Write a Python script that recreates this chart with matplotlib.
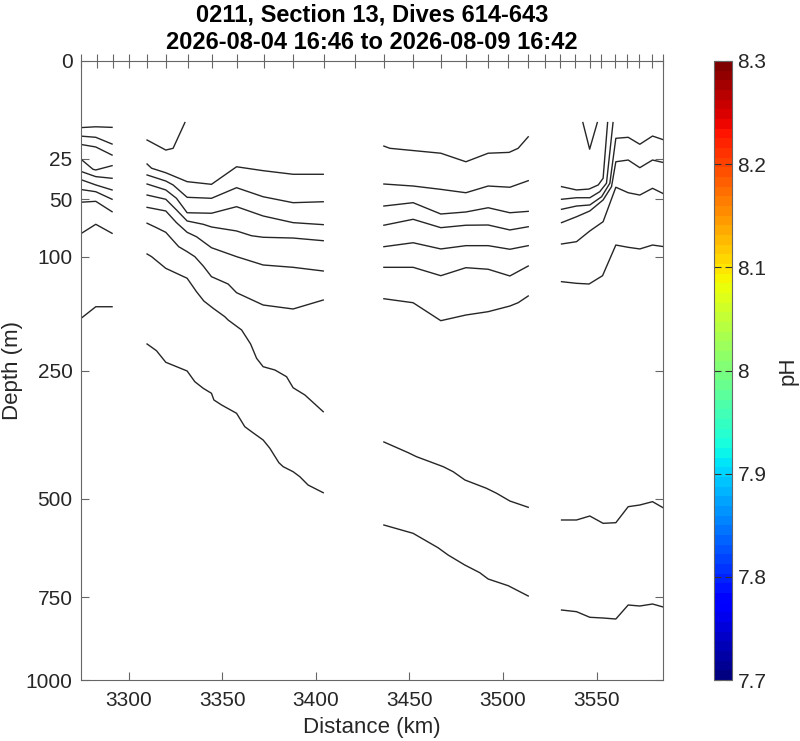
import numpy as np
import matplotlib
matplotlib.use("Agg")
import matplotlib.pyplot as plt
import matplotlib.colors as mcolors
import matplotlib.cm as cm

# dive positions (km) marked along the top axis
dive_km = [3274.0, 3282.5, 3291.2, 3300.0, 3309.6, 3319.8, 3331.3, 3344.3, 3357.7, 3372.4,
           3387.9, 3404.3, 3420.9, 3436.4, 3452.0, 3466.8, 3480.2, 3492.1, 3502.8, 3513.5,
           3522.8, 3530.9, 3538.9, 3546.9, 3553.0, 3560.1, 3566.9, 3573.1, 3579.9, 3586.1]

# contour lines, (distance km, depth m)
a_km = [3274.0, 3282.5, 3291.2]
line_a1 = (a_km, [11.6, 11.3, 11.5])
line_a2 = (a_km, [14.7, 15.2, 18.0])
line_a3 = (a_km, [18.1, 19.3, 23.1])
line_a4 = ([3274.0, 3281.0, 3282.5, 3291.2], [24.7, 30.6, 31.0, 28.6])
line_a5 = (a_km, [31.6, 34.9, 35.9])
line_a6 = (a_km, [36.5, 40.1, 43.4])
line_a7 = (a_km, [43.0, 44.6, 49.9])
line_a8 = (a_km, [52.1, 51.4, 59.3])
line_a9 = (a_km, [78.4, 69.6, 77.5])
line_a10 = (a_km, [174.1, 157.6, 157.6])

line_b0 = ([3309.9, 3319.9, 3323.8, 3330.1], [16.3, 20.7, 19.9, 9.9])
line_b1 = ([3309.9, 3312.3, 3319.9, 3331.3, 3344.3, 3357.7, 3371.9, 3387.9, 3404.0],
           [27.7, 30.0, 32.6, 38.0, 39.7, 29.2, 31.4, 33.5, 33.5])
line_b2 = ([3309.9, 3319.9, 3323.8, 3331.3, 3344.3, 3357.7, 3371.9, 3387.9, 3404.0],
           [33.9, 37.6, 40.1, 48.5, 49.2, 41.9, 48.1, 52.4, 51.7])
line_b3 = ([3309.9, 3319.9, 3325.6, 3331.3, 3344.3, 3357.7, 3371.9, 3387.9, 3404.0],
           [39.5, 43.4, 49.2, 60.1, 60.5, 55.4, 62.7, 68.2, 69.9])
line_b4 = ([3309.9, 3319.9, 3325.6, 3331.3, 3339.9, 3344.3, 3357.7, 3365.7, 3371.9, 3387.9, 3404.0],
           [46.9, 49.9, 57.9, 66.8, 69.6, 71.9, 75.4, 79.7, 81.1, 81.8, 84.3])
line_b5 = ([3309.9, 3319.9, 3325.6, 3331.3, 3336.3, 3344.3, 3357.7, 3371.9, 3387.9, 3404.0],
           [55.9, 58.7, 68.2, 76.6, 80.6, 91.0, 99.9, 108.6, 111.1, 115.1])
line_b6 = ([3309.9, 3314.9, 3319.9, 3326.8, 3331.3, 3335.4, 3339.9, 3344.3, 3353.2, 3357.7,
            3371.9, 3387.9, 3404.0],
           [68.7, 72.5, 76.6, 90.0, 94.9, 99.9, 109.7, 121.4, 129.8, 140.1, 155.4, 160.5, 149.1])
line_b7 = ([3309.9, 3312.3, 3319.9, 3331.3, 3336.3, 3340.2, 3345.2, 3351.4, 3353.2, 3360.4,
            3365.2, 3368.4, 3371.9, 3378.2, 3384.4, 3387.9, 3394.2, 3404.0],
           [97.2, 99.9, 112.2, 123.2, 138.9, 150.3, 159.6, 170.6, 175.1, 188.8,
            209.0, 230.7, 243.9, 249.2, 260.1, 278.6, 291.1, 321.0])
line_b8 = ([3309.9, 3314.9, 3319.9, 3331.3, 3335.4, 3339.9, 3344.3, 3345.6, 3349.7, 3357.7,
            3362.1, 3365.7, 3371.9, 3375.5, 3380.3, 3382.6, 3387.9, 3391.5, 3395.9, 3404.0],
           [209.0, 219.0, 236.9, 250.8, 268.4, 279.6, 288.2, 299.9, 308.8, 323.9,
            349.0, 358.6, 374.9, 391.5, 421.1, 429.5, 440.2, 451.0, 469.2, 486.4])

c_km = [3436.4, 3452.0, 3466.8, 3480.2, 3492.1, 3503.7, 3513.5]
line_c1 = ([3436.4, 3439.6, 3466.8, 3480.2, 3492.1, 3503.3, 3508.1, 3513.5],
           [18.9, 19.9, 22.2, 26.5, 22.2, 21.8, 19.9, 15.0])
line_c2 = (c_km, [39.5, 40.8, 43.0, 45.3, 40.8, 41.6, 37.4])
line_c3 = (c_km, [54.9, 52.4, 61.1, 59.5, 56.2, 60.1, 59.0])
line_c4 = (c_km, [70.4, 65.4, 72.5, 70.4, 70.2, 74.5, 71.7])
line_c5 = (c_km, [90.0, 86.2, 92.2, 89.0, 89.0, 92.5, 89.0])
line_c6 = (c_km, [111.1, 111.1, 120.3, 111.5, 113.2, 120.6, 109.7])
line_c7 = ([3436.4, 3452.0, 3466.8, 3480.2, 3492.1, 3503.7, 3508.1, 3513.5],
           [147.5, 152.5, 176.0, 168.4, 164.0, 156.7, 152.5, 144.1])
line_c8 = ([3436.4, 3449.4, 3453.8, 3468.1, 3473.4, 3479.7, 3491.2, 3496.6, 3503.7, 3513.5],
           [378.8, 400.4, 408.6, 429.5, 440.2, 458.2, 476.5, 487.7, 505.3, 519.8])
line_c9 = ([3436.4, 3452.0, 3465.3, 3470.7, 3479.6, 3487.6, 3492.1, 3502.8, 3513.5],
           [561.9, 582.2, 618.2, 636.9, 662.9, 683.3, 700.3, 718.5, 747.0])

d_km = [3531.3, 3539.3, 3546.4, 3553.5, 3560.3, 3566.9, 3573.1, 3579.9, 3586.1]
line_d0 = ([3542.7, 3546.3, 3550.4], [9.9, 20.3, 9.9])
line_d1 = ([3531.3, 3539.3, 3546.0, 3550.9, 3553.5, 3555.9], [41.2, 43.4, 42.8, 40.1, 35.9, 9.9])
line_d2 = ([3531.3, 3539.3, 3546.4, 3551.7, 3555.3, 3558.8], [49.9, 48.8, 48.8, 44.6, 39.0, 9.9])
line_d3 = ([3531.3, 3539.3, 3546.4, 3552.7, 3557.1, 3560.3, 3566.9, 3573.1, 3579.9, 3586.1],
           [57.4, 54.9, 54.1, 48.1, 39.0, 15.6, 15.2, 18.1, 14.7, 16.3])
line_d4 = ([3531.3, 3539.3, 3546.4, 3553.5, 3558.0, 3560.3, 3566.9, 3573.1, 3579.9, 3586.1],
           [68.2, 63.3, 58.7, 50.4, 41.2, 26.5, 25.6, 29.7, 25.6, 27.0])
line_d5 = (d_km, [87.4, 85.2, 75.4, 67.4, 41.6, 45.3, 46.9, 42.3, 46.2])
line_d6 = ([3531.3, 3539.3, 3546.0, 3553.2, 3560.3, 3566.9, 3573.1, 3579.9, 3586.1],
           [127.1, 129.0, 129.8, 120.3, 88.4, 90.6, 92.2, 88.4, 90.0])
line_d7 = (d_km, [549.8, 549.8, 540.3, 557.8, 556.3, 518.4, 514.5, 506.8, 522.2])
line_d8 = (d_km, [786.6, 791.4, 807.6, 809.7, 812.6, 772.3, 775.2, 769.5, 778.8])

contour_lines = [line_a1, line_a2, line_a3, line_a4, line_a5, line_a6, line_a7, line_a8,
                 line_a9, line_a10, line_b0, line_b1, line_b2, line_b3, line_b4, line_b5,
                 line_b6, line_b7, line_b8, line_c1, line_c2, line_c3, line_c4, line_c5,
                 line_c6, line_c7, line_c8, line_c9, line_d0, line_d1, line_d2, line_d3,
                 line_d4, line_d5, line_d6, line_d7, line_d8]

depth_ticks = [0, 25, 50, 100, 250, 500, 750, 1000]
dist_ticks = [3300, 3350, 3400, 3450, 3500, 3550]
ph_ticks = [7.7, 7.8, 7.9, 8.0, 8.1, 8.2, 8.3]
ph_labels = ["7.7", "7.8", "7.9", "8", "8.1", "8.2", "8.3"]

plt.rcParams["font.family"] = ["Liberation Sans", "DejaVu Sans"]
edge = "0.4"

fig = plt.figure(figsize=(8.0, 7.41), dpi=100)
ax = fig.add_axes([0.101, 0.0823, 0.728, 0.8354])

for km, z in contour_lines:
    ax.plot(km, z, color="0.15", lw=1.0)

ax.set_yscale("function", functions=(lambda v: np.sqrt(np.clip(v, 0, None)), lambda v: v ** 2))
ax.set_ylim(1000, 0)
ax.set_xlim(3274.5, 3585.6)
ax.set_yticks(depth_ticks)
ax.set_yticklabels([str(t) for t in depth_ticks])
ax.set_xticks(dist_ticks)
ax.minorticks_off()
ax.tick_params(direction="in", length=6, top=True, right=True, labelsize=15,
               color=edge, labelcolor="0.15")
ax.tick_params(axis="y", pad=6)
ax.tick_params(axis="x", pad=8)
for s in ax.spines.values():
    s.set_color(edge)
ax.set_xlabel("Distance (km)", fontsize=16, color="0.15", labelpad=5)
ax.set_ylabel("Depth (m)", fontsize=16, color="0.15", labelpad=2)

# dive markers on the top edge
top = ax.twiny()
top.set_xlim(ax.get_xlim())
top.set_xticks(dive_km)
top.tick_params(direction="inout", length=10, labeltop=False, color=edge)
top.minorticks_off()
for s in top.spines.values():
    s.set_visible(False)

title_x = 0.101 + 0.728 / 2
fig.text(title_x, 0.980, "0211, Section 13, Dives 614-643", ha="center", va="center",
         fontsize=17, fontweight="bold", color="black")
fig.text(title_x, 0.943, "2026-08-04 16:46 to 2026-08-09 16:42", ha="center", va="center",
         fontsize=17, fontweight="bold", color="black")

cax = fig.add_axes([0.8925, 0.0823, 0.0225, 0.8354])
sm = cm.ScalarMappable(norm=mcolors.Normalize(7.7, 8.3), cmap=plt.get_cmap("jet", 64))
cb = fig.colorbar(sm, cax=cax, ticks=ph_ticks)
cb.ax.set_yticklabels(ph_labels)
cb.ax.tick_params(direction="in", length=5, left=True, right=True, labelsize=15,
                  color="0.2", labelcolor="0.15", pad=4)
cb.outline.set_edgecolor(edge)
cb.set_label("pH", fontsize=16, color="0.15", labelpad=8)

fig.savefig("out.png", dpi=100)
